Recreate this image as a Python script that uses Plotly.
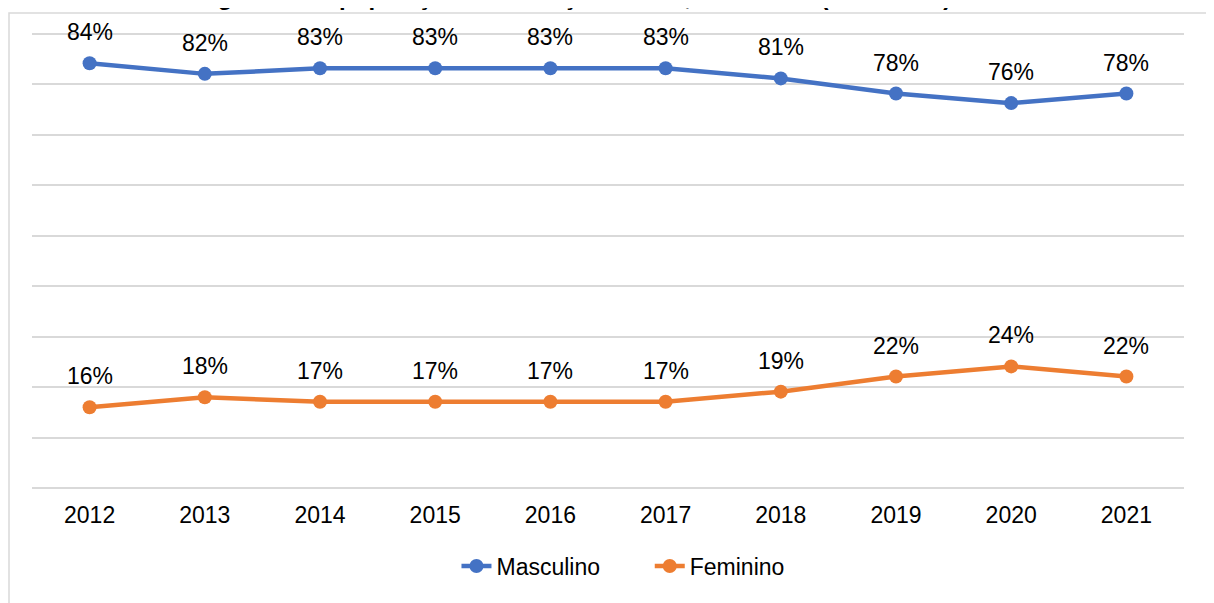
import plotly.graph_objects as go

years = ["2012", "2013", "2014", "2015", "2016", "2017", "2018", "2019", "2020", "2021"]
masculino = [84.2, 82.1, 83.2, 83.2, 83.2, 83.2, 81.2, 78.2, 76.3, 78.2]
feminino = [16.0, 18.0, 17.1, 17.1, 17.1, 17.1, 19.1, 22.1, 24.1, 22.1]
masc_labels = ["84%", "82%", "83%", "83%", "83%", "83%", "81%", "78%", "76%", "78%"]
fem_labels = ["16%", "18%", "17%", "17%", "17%", "17%", "19%", "22%", "24%", "22%"]
title_text = "Divisão de gênero da população em situação formal, São Paulo (2012-2021)"

BLUE = "#4472C4"
ORANGE = "#ED7D31"
FONT = "Liberation Sans, Arial, sans-serif"

# page body has an 8px margin, so the figure is sized to fit the window
W, H = 1206, 595
L, T = 24, 24
pw, ph = 1152, 458
R, B = W - L - pw, H - T - ph

fig = go.Figure()
for name, vals, color in [("Masculino" + "&nbsp;" * 7, masculino, BLUE), ("Feminino", feminino, ORANGE)]:
    fig.add_trace(go.Scatter(
        x=years, y=[v / 100 for v in vals], name=name, mode="lines+markers",
        line=dict(color=color, width=4.5),
        marker=dict(color=color, size=14),
    ))

annotations = []
for vals, labels in [(masculino, masc_labels), (feminino, fem_labels)]:
    for i, (v, t) in enumerate(zip(vals, labels)):
        annotations.append(dict(
            x=i, y=v / 100, xref="x", yref="y", text=t, showarrow=False, yshift=31,
            xanchor="center", yanchor="middle",
            font=dict(family=FONT, size=23, color="#000000"),
        ))

# clipped title at the very top
annotations.append(dict(
    xref="paper", yref="paper", x=(81 - L) / pw, y=1 + (T - 4) / ph,
    xanchor="left", yanchor="bottom", showarrow=False, text="<b>" + title_text + "</b>",
    font=dict(family=FONT, size=24, color="#000000"),
))

fig.update_layout(
    width=W, height=H, autosize=False,
    margin=dict(l=L, r=R, t=T, b=B, pad=0, autoexpand=False),
    paper_bgcolor="white", plot_bgcolor="white",
    font=dict(family=FONT, size=23, color="#000000"),
    showlegend=True,
    legend=dict(orientation="h", x=0.513, xanchor="center",
                y=-76 / ph, yanchor="middle",
                font=dict(family=FONT, size=23, color="#000000")),
    annotations=annotations,
    shapes=[dict(type="rect", xref="paper", yref="paper",
                 x0=(1 - L) / pw, x1=(1202 - L) / pw,
                 y0=-(B + 10) / ph, y1=1 + (T - 5) / ph,
                 line=dict(color="#D9D9D9", width=1.5), fillcolor="rgba(0,0,0,0)", layer="below")],
)
fig.update_xaxes(type="category", range=[-0.5, 9.5], showgrid=False, zeroline=False,
                 showline=False, ticks="", ticklabelstandoff=9, tickangle=0,
                 tickfont=dict(family=FONT, size=23, color="#000000"))
fig.update_yaxes(range=[-0.004, 0.904], dtick=0.1, tick0=0, showgrid=True, gridcolor="#D9D9D9",
                 gridwidth=2, zeroline=False, showline=False, showticklabels=False, ticks="")

fig.write_html("out.html")
